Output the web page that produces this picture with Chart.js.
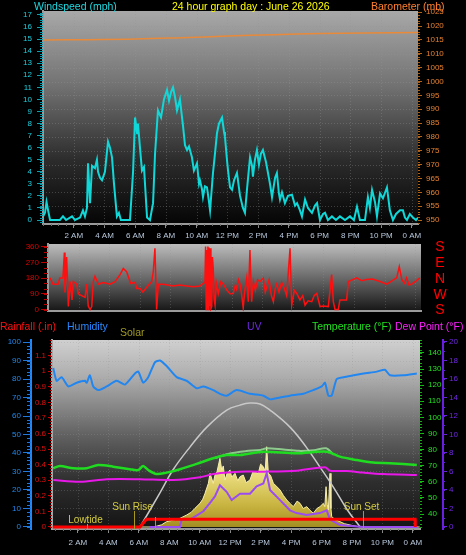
<!DOCTYPE html>
<html>
<head>
<meta charset="utf-8">
<script src="https://cdn.jsdelivr.net/npm/chart.js@4.4.1/dist/chart.umd.min.js"></script>
<style>
  body { margin: 0; background: #000; width: 466px; height: 555px; overflow: hidden; position: relative; font-family: "Liberation Sans", Arial, sans-serif; }
  canvas { position: absolute; left: 0; }
  .t { position: absolute; font-size: 10.5px; line-height: 12px; white-space: nowrap; z-index: 2; }
</style>
</head>
<body>
<div class="t" style="left:34px;top:0;color:#20d8e0">Windspeed (mph)</div>
<div class="t" style="left:172px;top:0;color:#ffff00">24 hour graph day : June 26 2026</div>
<div class="t" style="left:371px;top:0;color:#ff8030">Barometer (mb)</div>

<div class="t" style="left:0;top:320px;color:#ff1010">Rainfall (.in)</div>
<div class="t" style="left:67px;top:320px;color:#2888ff">Humidity</div>
<div class="t" style="left:120px;top:326px;color:#a09a28">Solar</div>
<div class="t" style="left:247px;top:320px;color:#7028e0">UV</div>
<div class="t" style="left:312px;top:320px;color:#20e020">Temperature (°F)</div>
<div class="t" style="left:395px;top:320px;color:#ff20ff">Dew Point (°F)</div>

<canvas id="windChart" width="466" height="242" style="top:0"></canvas>
<canvas id="dirChart" width="466" height="82" style="top:236px"></canvas>
<canvas id="weatherChart" width="466" height="237" style="top:318px"></canvas>

<script>
// x axis (hours of the day)
const xTickHours = [2, 4, 6, 8, 10, 12, 14, 16, 18, 20, 22, 24];
const xTickLabels = ['2 AM', '4 AM', '6 AM', '8 AM', '10 AM', '12 PM', '2 PM', '4 PM', '6 PM', '8 PM', '10 PM', '0 AM'];

// windspeed (mph)
const windHours = [0, 0.13, 0.23, 0.33, 0.46, 1.1, 1.3, 1.5, 1.89, 2.08, 2.41, 2.6, 2.73, 2.86, 2.93, 3.06, 3.19, 3.38, 3.51, 3.58, 3.71, 3.84, 4.03, 4.23, 4.36, 4.49, 4.62, 4.81, 4.94, 5.07, 5.66, 5.86, 5.99, 6.12, 6.18, 6.31, 6.44, 6.57, 6.77, 6.96, 7.16, 7.29, 7.48, 7.68, 7.87, 8.07, 8.2, 8.33, 8.46, 8.59, 8.72, 8.91, 9.11, 9.24, 9.37, 9.5, 9.69, 9.82, 10.02, 10.15, 10.21, 10.34, 10.41, 10.54, 10.67, 10.8, 10.87, 11.06, 11.19, 11.32, 11.45, 11.65, 11.78, 11.84, 11.97, 12.04, 12.17, 12.3, 12.43, 12.62, 12.82, 13.01, 13.14, 13.27, 13.47, 13.6, 13.66, 13.79, 13.92, 14.05, 14.18, 14.31, 14.51, 14.64, 14.77, 14.9, 15.1, 15.22, 15.35, 15.42, 15.55, 15.74, 15.94, 16.2, 16.4, 16.53, 16.72, 16.85, 17.05, 17.24, 17.5, 17.7, 17.83, 18.02, 18.22, 18.35, 18.54, 18.8, 19.06, 19.32, 19.65, 19.97, 20.23, 20.43, 20.62, 20.95, 21.14, 21.27, 21.41, 21.6, 21.73, 21.93, 22.12, 22.38, 22.57, 22.77, 22.97, 23.23, 23.42, 23.55, 23.68, 23.87, 24.07, 24.27, 24.4];
const windMph = [0.3, 0.6, 1.5, 0.8, 0, 0, 0.3, 0, 0.3, 0, 0.2, 0.8, 0.3, 1.0, 4.7, 1.4, 4.5, 4.3, 5.0, 4.0, 3.5, 3.3, 4.0, 6.5, 6.0, 5.2, 3.0, 0.3, 0.6, 0, 0, 4.0, 8.5, 7.2, 8.0, 6.0, 4.1, 4.4, 0.2, 0, 1.4, 5.5, 9.1, 8.5, 10.0, 10.8, 9.9, 10.6, 11.0, 10.2, 9.1, 10.0, 7.8, 6.2, 5.8, 6.1, 5.2, 4.1, 4.7, 3.0, 3.3, 2.6, 1.9, 2.8, 2.7, 1.5, 0.8, 3.9, 5.5, 7.2, 8.0, 8.5, 7.3, 6.9, 5.0, 4.1, 2.7, 2.5, 3.3, 3.9, 2.0, 1.0, 0.6, 2.5, 5.2, 4.5, 3.6, 5.0, 5.8, 4.6, 5.5, 5.8, 4.8, 3.9, 3.0, 1.9, 3.5, 3.9, 2.2, 1.7, 2.3, 1.4, 2.0, 2.1, 1.2, 1.4, 0.8, 0.3, 1.7, 1.0, 0.6, 1.2, 1.4, 0, 0.5, 0.6, 0, 0.3, 0, 0.3, 0, 0.3, 0, 1.1, 0, 0, 1.9, 1.0, 2.5, 1.5, 0.3, 2.2, 1.8, 2.7, 0.8, 0, 0.5, 0.8, 0.8, 0.2, 0, 0.5, 0.2, 0, 0.2];

// barometer (mb)
const baroHours = [0, 3, 6, 9, 12, 15, 18, 21, 24.4];
const baroMb = [1015.0, 1015.1, 1015.3, 1015.8, 1016.4, 1016.9, 1017.3, 1017.5, 1017.7];

// wind direction (degrees)
const dirHours = [0.13, 0.33, 0.65, 0.78, 0.98, 1.07, 1.11, 1.22, 1.33, 1.44, 1.57, 1.65, 1.88, 1.98, 2.2, 2.42, 2.53, 2.63, 2.75, 2.86, 2.96, 3.07, 3.29, 3.61, 4.05, 4.38, 4.71, 4.92, 5.14, 5.4, 5.69, 5.8, 6.01, 6.2, 6.45, 6.78, 6.88, 6.99, 7.1, 7.21, 7.54, 8.19, 8.6, 9.07, 9.5, 9.93, 10.15, 10.26, 10.3, 10.34, 10.37, 10.42, 10.45, 10.48, 10.52, 10.56, 10.59, 10.65, 10.7, 10.75, 10.8, 10.86, 10.92, 11.0, 11.13, 11.3, 11.46, 11.7, 11.9, 12.11, 12.25, 12.33, 12.45, 12.55, 12.65, 12.76, 12.85, 12.99, 13.09, 13.2, 13.31, 13.42, 13.55, 13.7, 13.86, 14.07, 14.2, 14.29, 14.45, 14.6, 14.73, 14.85, 14.95, 15.1, 15.27, 15.45, 15.6, 15.82, 15.93, 16.1, 16.26, 16.47, 16.65, 16.8, 17.0, 17.24, 17.4, 17.57, 17.78, 18.0, 18.32, 18.54, 18.65, 18.76, 18.97, 19.08, 19.52, 19.63, 20.18, 20.5, 20.83, 21.2, 21.7, 22.14, 22.5, 22.79, 22.96, 23.12, 23.3, 23.44, 23.6, 23.77, 24.0, 24.31];
const dirDeg = [181, 145, 145, 181, 181, 326, 98, 300, 17, 160, 55, 160, 145, 90, 80, 70, 145, 20, 0, 17, 160, 190, 145, 155, 145, 160, 200, 235, 216, 150, 155, 120, 120, 100, 127, 160, 216, 350, 0, 145, 145, 135, 140, 135, 130, 135, 150, 155, 360, 0, 340, 10, 360, 0, 355, 20, 350, 5, 17, 300, 235, 60, 25, 150, 92, 160, 145, 110, 90, 92, 140, 118, 170, 145, 90, 10, 100, 181, 45, 340, 45, 160, 110, 170, 160, 180, 100, 125, 170, 80, 45, 120, 145, 100, 155, 120, 80, 350, 25, 110, 92, 55, 80, 25, 50, 45, 80, 92, 17, 20, 17, 200, 45, 0, 0, 55, 55, 160, 181, 165, 172, 175, 160, 145, 165, 181, 245, 172, 150, 181, 140, 145, 160, 181];
const dirLetters = ['S', 'W', 'N', 'E', 'S'];
const dirLetterDeg = [0, 90, 180, 270, 360];

// rainfall (in)
const rainHours = [0.35, 6.08, 6.5, 24.15, 24.16];
const rainIn = [0, 0, 0.05, 0.05, 0];

// humidity (%)
const humHours = [0.38, 0.6, 0.93, 1.37, 1.92, 2.46, 2.58, 2.79, 3.01, 3.34, 3.89, 4.55, 5.09, 5.75, 5.97, 6.29, 6.62, 7.06, 7.39, 7.83, 8.49, 9.15, 9.8, 10.24, 10.89, 11.33, 11.77, 12.43, 13.3, 14.18, 14.62, 15.28, 15.93, 16.81, 17.46, 18.02, 18.23, 18.45, 18.67, 19.0, 19.45, 20.09, 20.75, 21.63, 22.17, 22.5, 23.38, 24.26];
const humPct = [86, 79, 81, 76, 78, 79, 78, 82, 76, 74, 76, 79, 77, 83, 84, 78, 81, 89, 90, 87, 81, 79, 75, 76, 74, 72, 71, 74, 72, 71, 69, 70, 71, 72, 74, 76, 78, 71, 71, 80, 81, 82, 83, 84, 85, 82, 82, 83];

// temperature, heat index and dew point (F)
const tempHours = [0.38, 0.82, 1.7, 2.58, 3.34, 4.32, 5.42, 5.97, 6.29, 6.62, 7.17, 7.83, 8.71, 9.8, 10.89, 11.77, 12.65, 14.18, 16.37, 18.34, 19.21, 20.31, 21.41, 22.5, 24.26];
const tempF = [68.4, 69.8, 68.4, 68.4, 70.4, 69.4, 67.8, 67.3, 69.8, 67.3, 64.8, 65.7, 67.8, 71.1, 74.6, 76.6, 76.6, 78.7, 77.7, 78.7, 75.6, 73.5, 71.9, 71.5, 70.4];
const feelsHours = [11.0, 12.0, 13.0, 14.0, 14.4, 15.5, 16.5, 17.5, 18.3, 18.8];
const feelsF = [74.8, 77.6, 79.0, 79.8, 80.8, 80.0, 79.2, 79.6, 80.8, 76.8];
const dewHours = [0.38, 2.14, 3.89, 6.08, 8.27, 10.02, 10.89, 11.77, 12.65, 14.18, 16.37, 18.23, 18.56, 19.66, 20.75, 22.06, 24.26];
const dewF = [61.1, 60.0, 61.6, 61.6, 61.1, 62.8, 64.8, 65.7, 66.3, 66.3, 66.9, 69.0, 66.9, 66.7, 65.7, 64.8, 64.2];

// solar radiation (W/m2) and clear-sky maximum
const solarHours = [0.35, 7.0, 7.06, 7.5, 7.83, 8.3, 8.71, 9.15, 9.45, 9.69, 10.02, 10.2, 10.35, 10.57, 10.68, 10.89, 11.0, 11.14, 11.33, 11.45, 11.55, 11.66, 11.8, 11.99, 12.1, 12.32, 12.5, 12.65, 12.86, 13.05, 13.3, 13.5, 13.85, 14.0, 14.18, 14.3, 14.4, 14.51, 14.65, 14.84, 15.05, 15.28, 15.5, 15.72, 15.9, 16.15, 16.4, 16.59, 16.8, 17.03, 17.25, 17.46, 17.7, 17.9, 18.12, 18.22, 18.3, 18.38, 18.45, 18.56, 18.62, 18.67, 18.9, 19.21, 19.5, 19.87, 20.2, 20.53, 24.45];
const solarW = [0, 0, 2, 12, 29, 38, 47, 65, 80, 101, 128, 150, 182, 236, 290, 236, 280, 300, 371, 308, 330, 254, 290, 308, 270, 290, 250, 272, 281, 240, 254, 300, 290, 340, 326, 300, 434, 290, 280, 236, 220, 200, 170, 146, 130, 110, 140, 128, 100, 110, 90, 74, 100, 110, 128, 110, 218, 120, 92, 290, 100, 56, 40, 29, 18, 11, 5, 0, 0];
const solarMaxHours = [6.08, 7.39, 8.24, 9.36, 10.47, 11.78, 12.65, 13.3, 13.96, 14.62, 15.93, 17.0, 17.9, 18.78, 19.7, 20.54];
const solarMaxW = [0, 184, 308, 432, 540, 632, 659, 670, 665, 632, 540, 432, 324, 216, 92, 0];

// UV index
const uvHours = [6.73, 8.7, 8.82, 9.37, 9.58, 10.24, 10.68, 11.0, 11.33, 11.77, 12.1, 12.65, 13.3, 13.74, 14.18, 14.4, 14.62, 15.28, 15.93, 16.37, 17.03, 17.9, 18.34, 18.56, 19.21, 20.75, 24.3];
const uvIndex = [0, 0, 0.8, 0.8, 1.0, 1.7, 2.6, 3.3, 4.5, 3.8, 2.9, 3.6, 3.6, 4.4, 4.7, 5.8, 4.0, 2.9, 1.8, 1.5, 1.3, 1.5, 1.8, 0.8, 0.2, 0, 0];

// marked events on the weather panel
const eventNames = ['Lowtide', 'Sun Rise', '', 'Sun Set'];
const eventHours = [2.6, 5.68, 7.06, 20.73];

const FONT = '"Liberation Sans", Arial, sans-serif';
Chart.defaults.font.family = FONT;
Chart.defaults.font.size = 8;
Chart.defaults.animation = false;
Chart.defaults.plugins.legend.display = false;
Chart.defaults.plugins.tooltip.enabled = false;
Chart.defaults.elements.point.radius = 0;

function pairs(xs, ys) {
    return xs.map((x, i) => ({ x: x, y: ys[i] }));
}

function steps(a, b, s) {
    const out = [];
    for (let v = a; v <= b + 1e-9; v += s) out.push(+v.toFixed(4));
    return out;
}

// gradient plot background plus faint dashed grid
const panelBg = {
    id: 'panelBg',
    beforeDraw(chart, args, opts) {
        const { ctx, chartArea: a } = chart;
        const g = ctx.createLinearGradient(0, a.top, 0, a.bottom);
        opts.stops.forEach(s => g.addColorStop(s[0], s[1]));
        ctx.save();
        ctx.fillStyle = g;
        ctx.fillRect(a.left, a.top, a.right - a.left, a.bottom - a.top);
        ctx.lineWidth = 1;
        ctx.setLineDash([1, 2]);
        ctx.strokeStyle = opts.gridColor;
        const xs = chart.scales.x;
        xTickHours.forEach(h => {
            const px = Math.round(xs.getPixelForValue(h)) + 0.5;
            if (px > a.right - 2) return;
            ctx.beginPath(); ctx.moveTo(px, a.top); ctx.lineTo(px, a.bottom); ctx.stroke();
        });
        if (opts.hScale) {
            const ys = chart.scales[opts.hScale];
            steps(opts.hFrom, opts.hTo, opts.hStep).forEach(v => {
                const py = Math.round(ys.getPixelForValue(v)) + 0.5;
                ctx.beginPath(); ctx.moveTo(a.left, py); ctx.lineTo(a.right, py); ctx.stroke();
            });
        }
        ctx.restore();
    }
};

// minor ruler ticks along the axes
const ruler = {
    id: 'ruler',
    afterDraw(chart, args, opts) {
        const ctx = chart.ctx;
        ctx.save();
        ctx.lineWidth = 1;
        (opts.marks || []).forEach(m => {
            const s = chart.scales[m.scale];
            ctx.strokeStyle = m.color;
            const k0 = Math.ceil(s.min / m.step - 1e-6);
            for (let k = k0; k * m.step <= s.max + 1e-6; k++) {
                const p = Math.round(s.getPixelForValue(k * m.step)) + 0.5;
                ctx.beginPath();
                if (s.isHorizontal()) {
                    ctx.moveTo(p, s.top); ctx.lineTo(p, s.top + m.len);
                } else if (s.options.position === 'left') {
                    ctx.moveTo(s.right - m.len, p); ctx.lineTo(s.right, p);
                } else {
                    ctx.moveTo(s.left, p); ctx.lineTo(s.left + m.len, p);
                }
                ctx.stroke();
            }
        });
        ctx.restore();
    }
};

// compass letters beside the direction panel
const compass = {
    id: 'compass',
    afterDraw(chart, args, opts) {
        if (!opts.scale) return;
        const ctx = chart.ctx, s = chart.scales[opts.scale];
        ctx.save();
        ctx.font = '14px ' + FONT;
        ctx.fillStyle = opts.color;
        ctx.textAlign = 'center';
        ctx.textBaseline = 'middle';
        dirLetterDeg.forEach((d, i) => {
            ctx.fillText(dirLetters[i], chart.chartArea.right + opts.offset, s.getPixelForValue(d) + 1);
        });
        ctx.restore();
    }
};

// sunrise / sunset / tide markers
const eventMarks = {
    id: 'eventMarks',
    afterDatasetsDraw(chart, args, opts) {
        if (!opts.len) return;
        const ctx = chart.ctx, xs = chart.scales.x, base = chart.chartArea.bottom;
        ctx.save();
        ctx.font = '10px ' + FONT;
        ctx.textAlign = 'center';
        ctx.textBaseline = 'bottom';
        eventHours.forEach((h, i) => {
            const px = Math.round(xs.getPixelForValue(h)) + 0.5;
            const top = base - opts.len[i];
            ctx.strokeStyle = opts.lineColor;
            ctx.lineWidth = 1;
            ctx.beginPath(); ctx.moveTo(px, base); ctx.lineTo(px, top); ctx.stroke();
            if (eventNames[i]) {
                ctx.fillStyle = opts.textColor;
                ctx.fillText(eventNames[i], px - 2, top + 1);
            }
        });
        ctx.restore();
    }
};

function yScale(o) {
    return {
        type: 'linear',
        position: o.pos,
        min: o.min,
        max: o.max,
        weight: o.weight || 0,
        afterFit: s => { s.width = o.width; },
        afterBuildTicks: s => { s.ticks = o.ticks.map(v => ({ value: v })); },
        ticks: {
            color: o.color,
            padding: o.pad,
            autoSkip: false,
            font: o.font,
            callback: o.fmt || (v => v)
        },
        grid: {
            drawOnChartArea: false,
            drawTicks: o.tickLen > 0,
            tickLength: o.tickLen || 0,
            tickColor: o.tickColor
        },
        border: o.border || { display: false }
    };
}

function xScale(min, max, height, showLabels, pad) {
    return {
        type: 'linear',
        min: min,
        max: max,
        afterFit: s => { s.height = height; },
        afterBuildTicks: s => { s.ticks = xTickHours.map(v => ({ value: v })); },
        ticks: {
            display: showLabels,
            color: '#b8c8dc',
            padding: pad,
            autoSkip: false,
            maxRotation: 0,
            callback: (v, i) => xTickLabels[i]
        },
        grid: { drawOnChartArea: false, drawTicks: showLabels, tickLength: 4, tickColor: '#8a8a8a' },
        border: { color: '#9a9a9a', width: 2 }
    };
}

// ---------- windspeed / barometer ----------
new Chart(document.getElementById('windChart'), {
    type: 'line',
    data: {
        datasets: [{
            data: pairs(windHours, windMph),
            yAxisID: 'wind',
            borderColor: '#10d8d8',
            borderWidth: 2,
            tension: 0
        }, {
            data: pairs(baroHours, baroMb),
            yAxisID: 'baro',
            borderColor: '#e88a3a',
            borderWidth: 1.5,
            tension: 0.4
        }]
    },
    options: {
        responsive: false,
        layout: { padding: { top: 11, left: 0, right: 0, bottom: 0 } },
        scales: {
            x: xScale(0, 24.4, 18, true, 3),
            wind: yScale({ pos: 'left', width: 43, min: -0.33, max: 17.33, ticks: steps(0, 17, 1),
                color: '#18d0e0', pad: 5, tickLen: 6, tickColor: '#0aa0b0',
                border: { color: '#9a9a9a', width: 2 } }),
            baro: yScale({ pos: 'right', width: 48, min: 948.56, max: 1025.45, ticks: steps(950, 1025, 5),
                color: '#e88030', pad: 4, tickLen: 4, tickColor: '#b86418' })
        },
        plugins: {
            panelBg: { stops: [[0, '#a8a8a8'], [0.35, '#727272'], [0.7, '#2c2c2c'], [1, '#050505']],
                gridColor: 'rgba(150,150,150,0.35)', hScale: 'baro', hFrom: 955, hTo: 1020, hStep: 5 },
            ruler: { marks: [
                { scale: 'wind', step: 0.2, len: 3, color: '#0a98a8' },
                { scale: 'baro', step: 1, len: 2, color: '#b06010' },
                { scale: 'x', step: 0.5, len: 2, color: '#707070' }
            ] }
        }
    },
    plugins: [panelBg, ruler]
});

// ---------- wind direction ----------
new Chart(document.getElementById('dirChart'), {
    type: 'line',
    data: {
        datasets: [{
            data: pairs(dirHours, dirDeg),
            yAxisID: 'dir',
            borderColor: '#ff1010',
            borderWidth: 1.5,
            tension: 0
        }]
    },
    options: {
        responsive: false,
        layout: { padding: { top: 8, left: 0, right: 45, bottom: 6 } },
        scales: {
            x: xScale(0, 24.38, 0, false, 0),
            dir: yScale({ pos: 'left', width: 48, min: -9.6, max: 375, ticks: steps(0, 360, 90),
                color: '#e00000', pad: 2, tickLen: 7, tickColor: '#c00000',
                border: { color: '#9a9a9a', width: 2 } })
        },
        plugins: {
            panelBg: { stops: [[0, '#bcbcbc'], [0.5, '#6a6a6a'], [1, '#161616']],
                gridColor: 'rgba(150,150,150,0.3)' },
            ruler: { marks: [{ scale: 'dir', step: 30, len: 4, color: '#c00000' }] },
            compass: { scale: 'dir', offset: 19, color: '#ff0000' }
        }
    },
    plugins: [panelBg, ruler, compass]
});

// ---------- rain / humidity / solar / uv / temperature ----------
new Chart(document.getElementById('weatherChart'), {
    type: 'line',
    data: {
        datasets: [{
            data: pairs(rainHours, rainIn),
            yAxisID: 'rain',
            borderColor: '#ff0000',
            borderWidth: 3,
            tension: 0
        }, {
            data: pairs(uvHours, uvIndex),
            yAxisID: 'uv',
            borderColor: '#9a4cf2',
            borderWidth: 2,
            tension: 0
        }, {
            data: pairs(humHours, humPct),
            yAxisID: 'hum',
            borderColor: '#2286f0',
            borderWidth: 2,
            tension: 0.2
        }, {
            data: pairs(tempHours, tempF),
            yAxisID: 'temp',
            borderColor: '#20dc20',
            borderWidth: 2.5,
            tension: 0.3
        }, {
            data: pairs(feelsHours, feelsF),
            yAxisID: 'temp',
            borderColor: 'rgba(150,225,150,0.85)',
            borderWidth: 2,
            tension: 0.3
        }, {
            data: pairs(dewHours, dewF),
            yAxisID: 'temp',
            borderColor: '#e818e8',
            borderWidth: 2,
            tension: 0.3
        }, {
            data: pairs(solarMaxHours, solarMaxW),
            yAxisID: 'solar',
            borderColor: '#c8c8c8',
            borderWidth: 1.5,
            tension: 0.4
        }, {
            data: pairs(solarHours, solarW),
            yAxisID: 'solar',
            borderColor: '#f6eeaa',
            borderWidth: 1,
            tension: 0,
            fill: 'origin',
            backgroundColor: (c) => {
                const area = c.chart.chartArea;
                if (!area) return '#d8c860';
                const g = c.chart.ctx.createLinearGradient(0, area.bottom - 80, 0, area.bottom);
                g.addColorStop(0, '#f8f0b0');
                g.addColorStop(0.35, '#e8da7a');
                g.addColorStop(0.7, '#c8b440');
                g.addColorStop(1, '#a08a20');
                return g;
            }
        }]
    },
    options: {
        responsive: false,
        layout: { padding: { top: 22, left: 0, right: 0, bottom: 0 } },
        scales: {
            x: xScale(0.3, 24.47, 26, true, 5),
            hum: yScale({ pos: 'left', weight: 1, width: 31, min: -1.1, max: 101.1, ticks: steps(0, 100, 10),
                color: '#2088f0', pad: 2, tickLen: 8, tickColor: '#1e78e0',
                border: { display: true, color: '#1e88ff', width: 2 } }),
            rain: yScale({ pos: 'left', weight: 0, width: 21, min: -0.013, max: 1.2, ticks: steps(0, 1.1, 0.1),
                color: '#dd1010', pad: 2, tickLen: 4, tickColor: '#c80000',
                fmt: v => String(+v.toFixed(1)),
                border: { color: '#a8a8a8', width: 2 } }),
            temp: yScale({ pos: 'right', weight: 0, width: 23, min: 30.7, max: 148, ticks: steps(40, 140, 10),
                color: '#20e020', pad: 4, tickLen: 4, tickColor: '#10c010' }),
            uv: yScale({ pos: 'right', weight: 1, width: 23, min: -0.22, max: 20.2, ticks: steps(0, 20, 2),
                color: '#7028e0', pad: 2, tickLen: 4, tickColor: '#6a20e0',
                border: { display: true, color: '#6a20e0', width: 2 } }),
            solar: { type: 'linear', display: false, min: -10.8, max: 1011 }
        },
        plugins: {
            panelBg: { stops: [[0, '#d0d0d0'], [0.22, '#a8a8a8'], [0.5, '#626262'], [0.75, '#2e2e2e'], [1, '#141414']],
                gridColor: 'rgba(150,150,150,0.3)', hScale: 'hum', hFrom: 10, hTo: 100, hStep: 10 },
            ruler: { marks: [
                { scale: 'hum', step: 2, len: 4, color: '#1e78e0' },
                { scale: 'rain', step: 0.02, len: 2, color: '#c00000' },
                { scale: 'temp', step: 2, len: 2, color: '#10b010' },
                { scale: 'uv', step: 1, len: 2, color: '#6020d0' },
                { scale: 'x', step: 0.5, len: 2, color: '#707070' }
            ] },
            eventMarks: { len: [5, 18, 12, 18], lineColor: '#a89a20', textColor: '#d4cc40' }
        }
    },
    plugins: [panelBg, ruler, eventMarks]
});
</script>
</body>
</html>
